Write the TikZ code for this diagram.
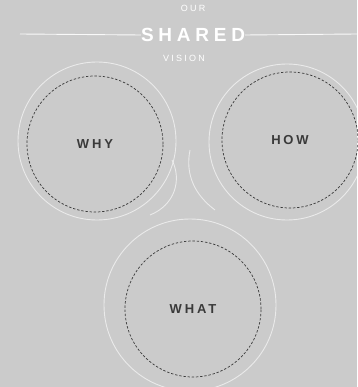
\documentclass[tikz,border=0pt]{standalone}
\usepackage{fontspec}
\setmainfont{Liberation Sans}
\newfontfamily\wide[LetterSpace=25]{Liberation Sans}
\newfontfamily\widelbl[LetterSpace=22]{Liberation Sans}
\definecolor{bggray}{HTML}{CBCBCB}
\definecolor{inkgray}{HTML}{3A3A3A}
\begin{document}
\begin{tikzpicture}[x=1pt,y=-1pt,
  dashcircle/.style={circle,draw=inkgray,dash pattern=on 2.4pt off 1.8pt,line width=0.7pt,minimum size=136pt,inner sep=0pt,
    font=\widelbl\bfseries\fontsize{13}{13}\selectfont,text=inkgray},
  whiteline/.style={draw=white,line width=0.9pt,opacity=0.6},
  titletext/.style={text=white,inner sep=0pt}]
\fill[bggray] (0,0) rectangle (357,387);
\useasboundingbox (0,0) rectangle (357,387);
% title
\node[titletext,font=\wide\fontsize{9}{9}\selectfont] (our) at (193,8) {OUR};
\node[titletext,font=\wide\bfseries\fontsize{19}{19}\selectfont] (shared) at (193,35) {SHARED};
\node[titletext,font=\wide\fontsize{9}{9}\selectfont] (vision) at (184,58) {VISION};
\coordinate (lineL) at (20,34);
\coordinate (lineR) at (357,34);
\draw[whiteline,opacity=0.9] (lineL) -- (shared.west);
\draw[whiteline,opacity=0.9] (shared.east) -- (lineR);
% white loops
\draw[whiteline] (97,141) circle (79);
\draw[whiteline] (287,142) circle (78);
\draw[whiteline] (190,305) circle (86);
\draw[whiteline] (150,215) .. controls (175,205) and (182,180) .. (172,160);
\draw[whiteline] (190,150) .. controls (185,175) and (195,195) .. (215,210);
% circles
\node[dashcircle] (why) at (95,144) {WHY};
\node[dashcircle] (how) at (290,140) {HOW};
\node[dashcircle] (what) at (193,309) {WHAT};
\end{tikzpicture}
\end{document}
